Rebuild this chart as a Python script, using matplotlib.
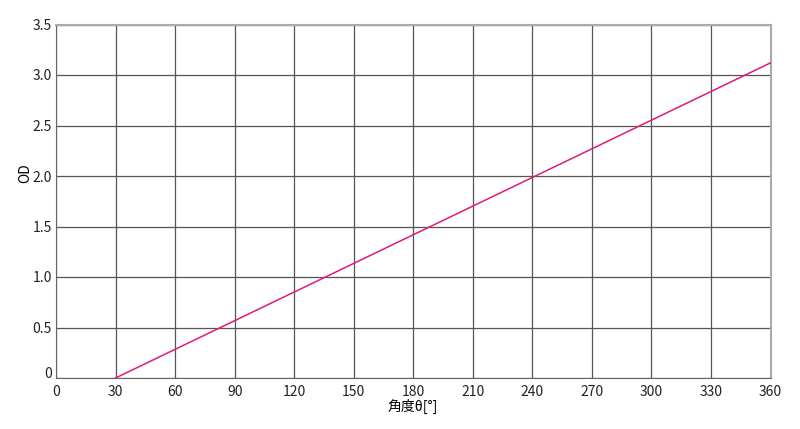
import numpy as np
from matplotlib import pyplot as plt
from matplotlib import transforms

plt.rcParams['font.family'] = ['Noto Sans CJK JP', 'DejaVu Sans']

angle = [30, 360]
od = [0.0, 3.12]
xticks = [0, 30, 60, 90, 120, 150, 180, 210, 240, 270, 300, 330, 360]
yticks = [0, 0.5, 1.0, 1.5, 2.0, 2.5, 3.0, 3.5]
ytick_labels = ["0", "0.5", "1.0", "1.5", "2.0", "2.5", "3.0", "3.5"]

fig = plt.figure(figsize=(8, 4.29), dpi=100)
ax = fig.add_axes([56/800, 1-378/429, (770.5-56)/800, (378-24.5)/429])
ax.plot(angle, od, color="#e2197c", lw=1.1, zorder=3)
ax.set_xlim(0, 360)
ax.set_ylim(0, 3.5)
ax.set_xticks(xticks)
ax.set_yticks(yticks)
ax.set_yticklabels(ytick_labels)
ax.grid(True, color="#555555", lw=0.9)
ax.tick_params(length=0, labelsize=10, colors="#222222")
ax.tick_params(axis="x", pad=5)
ax.tick_params(axis="y", pad=3)
for s in ["left", "bottom"]:
    ax.spines[s].set_color("#666666")
for s in ["top", "right"]:
    ax.spines[s].set_color("#aaaaaa")
    ax.spines[s].set_linewidth(1.5)
# the "0" label sits a bit above the axis in the original
lbl0 = ax.get_yticklabels()[0]
lbl0.set_transform(lbl0.get_transform() + transforms.ScaledTranslation(0, 5/100, fig.dpi_scale_trans))
ax.set_xlabel("角度θ[°]", fontsize=10, labelpad=0)
ax.set_ylabel("OD", fontsize=10, va="center")
ax.yaxis.set_label_coords(-0.0434, 0.58)
fig.savefig("out.png", dpi=100)
